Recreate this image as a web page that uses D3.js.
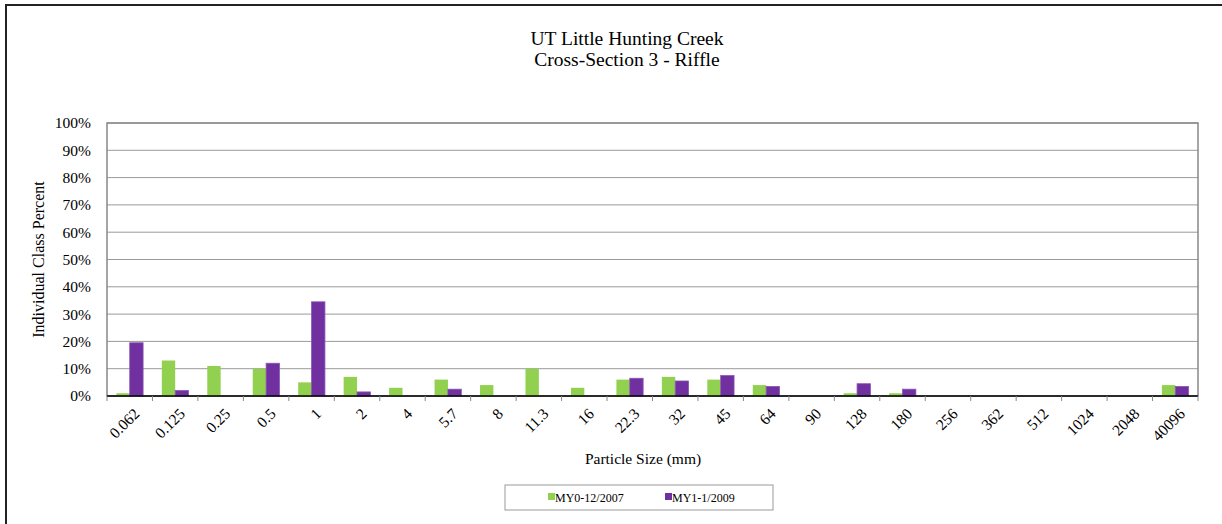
<!DOCTYPE html>
<html>
<head>
<meta charset="utf-8">
<script src="https://cdn.jsdelivr.net/npm/d3@7"></script>
<style>
  body { margin: 0; background: #fff; }
  text { font-family: "Liberation Serif", "Times New Roman", serif; fill: #000; }
</style>
</head>
<body>
<div id="chart"></div>
<script>
// particle size classes (mm)
const sizes = ["0.062", "0.125", "0.25", "0.5", "1", "2", "4", "5.7", "8", "11.3", "16", "22.3",
    "32", "45", "64", "90", "128", "180", "256", "362", "512", "1024", "2048", "40096"];
// individual class percent for each survey
const my0 = [1, 13, 11, 10, 5, 7, 3, 6, 4, 10, 3, 6, 7, 6, 4, 0, 1, 1, 0, 0, 0, 0, 0, 4];
const my1 = [19.5, 2, 0, 12, 34.5, 1.5, 0, 2.5, 0, 0, 0, 6.5, 5.5, 7.5, 3.5, 0, 4.5, 2.5, 0, 0, 0, 0, 0, 3.5];
const seriesNames = ["MY0-12/2007", "MY1-1/2009"];
const seriesColors = ["#92D050", "#7030A0"];
const yTicks = [0, 10, 20, 30, 40, 50, 60, 70, 80, 90, 100];

const W = 1222, H = 524;
const margin = { top: 123, left: 107, right: 24, bottom: 128 };
const width = W - margin.left - margin.right,
    height = H - margin.top - margin.bottom;

const svg = d3.select("#chart").append("svg")
    .attr("width", W)
    .attr("height", H);

// outer chart frame
svg.append("rect")
    .attr("x", 6).attr("y", 5)
    .attr("width", W + 10).attr("height", H + 10)
    .attr("fill", "none")
    .attr("stroke", "#222")
    .attr("stroke-width", 2);

svg.append("text")
    .attr("x", 627).attr("y", 45)
    .attr("text-anchor", "middle")
    .attr("font-size", "19.5px")
    .text("UT Little Hunting Creek");
svg.append("text")
    .attr("x", 627).attr("y", 66)
    .attr("text-anchor", "middle")
    .attr("font-size", "19.5px")
    .text("Cross-Section 3 - Riffle");

const g = svg.append("g")
    .attr("transform", "translate(" + margin.left + "," + margin.top + ")");

const xScale = d3.scaleBand()
    .domain(sizes)
    .range([0, width]);
const xInner = d3.scaleBand()
    .domain([0, 1])
    .range([0, xScale.bandwidth()])
    .paddingOuter(0.7);
const yScale = d3.scaleLinear()
    .domain([0, 100])
    .range([height, 0]);

// gridlines
g.selectAll(".grid")
    .data(yTicks.slice(1))
    .enter()
    .append("line")
    .attr("class", "grid")
    .attr("x1", 0).attr("x2", width)
    .attr("y1", (d) => yScale(d)).attr("y2", (d) => yScale(d))
    .attr("stroke", "#9a9a9a")
    .attr("stroke-width", 1);

// plot border
g.append("rect")
    .attr("width", width).attr("height", height)
    .attr("fill", "none")
    .attr("stroke", "#888")
    .attr("stroke-width", 1.5);

// y labels
g.selectAll(".ylab")
    .data(yTicks)
    .enter()
    .append("text")
    .attr("x", -16)
    .attr("y", (d) => yScale(d))
    .attr("dy", "0.35em")
    .attr("text-anchor", "end")
    .attr("font-size", "15.5px")
    .text((d) => d + "%");

// bars
const data = [my0, my1];
data.forEach((vals, si) => {
    g.selectAll(".bar" + si)
        .data(vals)
        .enter()
        .append("rect")
        .attr("class", "bar" + si)
        .attr("x", (d, i) => xScale(sizes[i]) + xInner(si))
        .attr("width", xInner.bandwidth())
        .attr("y", (d) => yScale(d))
        .attr("height", (d) => height - yScale(d))
        .attr("fill", seriesColors[si])
        .attr("stroke", si === 1 ? "#8a55b5" : "none")
        .attr("stroke-width", si === 1 ? 0.8 : 0);
});

// x axis line and ticks
g.append("line")
    .attr("x1", 0).attr("x2", width)
    .attr("y1", height).attr("y2", height)
    .attr("stroke", "#000")
    .attr("stroke-width", 1.5);
g.selectAll(".xtick")
    .data(sizes.concat(["end"]))
    .enter()
    .append("line")
    .attr("x1", (d, i) => i * xScale.step())
    .attr("x2", (d, i) => i * xScale.step())
    .attr("y1", height).attr("y2", height + 5)
    .attr("stroke", "#888");

g.selectAll(".xlab")
    .data(sizes)
    .enter()
    .append("text")
    .attr("text-anchor", "end")
    .attr("font-size", "15.5px")
    .attr("transform", (d) => "translate(" + (xScale(d) + xScale.bandwidth() / 2 + 3) + "," + (height + 11) + ") rotate(-45)")
    .attr("dy", "0.7em")
    .text((d) => d);

// axis titles
svg.append("text")
    .attr("x", 643).attr("y", 464)
    .attr("text-anchor", "middle")
    .attr("font-size", "15.5px")
    .text("Particle Size (mm)");
svg.append("text")
    .attr("transform", "translate(44," + (margin.top + height / 2) + ") rotate(-90)")
    .attr("text-anchor", "middle")
    .attr("font-size", "16px")
    .text("Individual Class Percent");

// legend
const legend = svg.append("g").attr("transform", "translate(505,485)");
legend.append("rect")
    .attr("width", 268).attr("height", 25)
    .attr("fill", "#fff")
    .attr("stroke", "#999");
const legX = [43, 160];
seriesNames.forEach((name, i) => {
    legend.append("rect")
        .attr("x", legX[i]).attr("y", 8)
        .attr("width", 7).attr("height", 7)
        .attr("fill", seriesColors[i]);
    legend.append("text")
        .attr("x", legX[i] + 7).attr("y", 16.5)
        .attr("font-size", "12px")
        .text(name);
});
</script>
</body>
</html>
